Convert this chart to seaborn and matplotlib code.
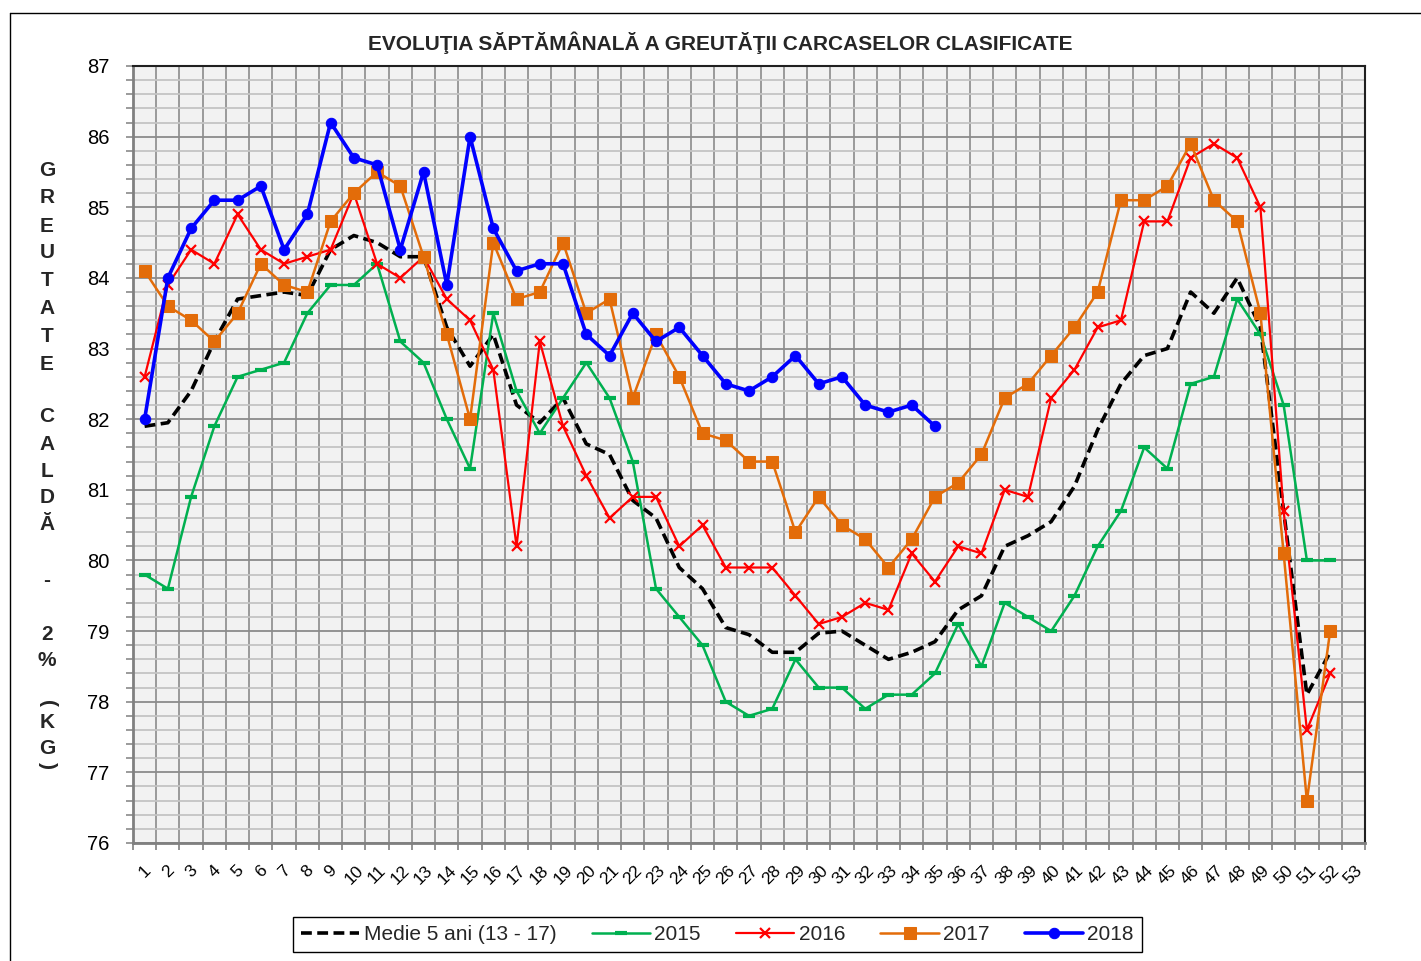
import numpy as np
import matplotlib.pyplot as plt
import seaborn as sns
from matplotlib.ticker import MultipleLocator
from matplotlib.lines import Line2D

# weekly carcass weight
weeks = np.arange(1, 53)
week_labels = [str(i) for i in range(1, 54)]
medie = [81.9, 81.95, 82.4, 83.1, 83.7, 83.75, 83.8, 83.75, 84.4, 84.6, 84.5, 84.3, 84.3,
         83.3, 82.75, 83.2, 82.2, 81.95, 82.3, 81.65, 81.5, 80.85, 80.6, 79.9, 79.6, 79.05,
         78.95, 78.7, 78.7, 78.97, 79.0, 78.8, 78.6, 78.7, 78.85, 79.3, 79.5, 80.2, 80.35,
         80.55, 81.05, 81.85, 82.5, 82.9, 83.0, 83.8, 83.5, 84.0, 83.3, 80.7, 78.1, 78.7]
y2015 = [79.8, 79.6, 80.9, 81.9, 82.6, 82.7, 82.8, 83.5, 83.9, 83.9, 84.2, 83.1, 82.8,
         82.0, 81.3, 83.5, 82.4, 81.8, 82.3, 82.8, 82.3, 81.4, 79.6, 79.2, 78.8, 78.0,
         77.8, 77.9, 78.6, 78.2, 78.2, 77.9, 78.1, 78.1, 78.4, 79.1, 78.5, 79.4, 79.2,
         79.0, 79.5, 80.2, 80.7, 81.6, 81.3, 82.5, 82.6, 83.7, 83.2, 82.2, 80.0, 80.0]
y2016 = [82.6, 83.9, 84.4, 84.2, 84.9, 84.4, 84.2, 84.3, 84.4, 85.2, 84.2, 84.0, 84.3,
         83.7, 83.4, 82.7, 80.2, 83.1, 81.9, 81.2, 80.6, 80.9, 80.9, 80.2, 80.5, 79.9,
         79.9, 79.9, 79.5, 79.1, 79.2, 79.4, 79.3, 80.1, 79.7, 80.2, 80.1, 81.0, 80.9,
         82.3, 82.7, 83.3, 83.4, 84.8, 84.8, 85.7, 85.9, 85.7, 85.0, 80.7, 77.6, 78.4]
y2017 = [84.1, 83.6, 83.4, 83.1, 83.5, 84.2, 83.9, 83.8, 84.8, 85.2, 85.5, 85.3, 84.3,
         83.2, 82.0, 84.5, 83.7, 83.8, 84.5, 83.5, 83.7, 82.3, 83.2, 82.6, 81.8, 81.7,
         81.4, 81.4, 80.4, 80.9, 80.5, 80.3, 79.9, 80.3, 80.9, 81.1, 81.5, 82.3, 82.5,
         82.9, 83.3, 83.8, 85.1, 85.1, 85.3, 85.9, 85.1, 84.8, 83.5, 80.1, 76.6, 79.0]
y2018 = [82.0, 84.0, 84.7, 85.1, 85.1, 85.3, 84.4, 84.9, 86.2, 85.7, 85.6, 84.4, 85.5,
         83.9, 86.0, 84.7, 84.1, 84.2, 84.2, 83.2, 82.9, 83.5, 83.1, 83.3, 82.9, 82.5,
         82.4, 82.6, 82.9, 82.5, 82.6, 82.2, 82.1, 82.2, 81.9]

sns.set_theme(style="white")
plt.rcParams['font.family'] = ['Liberation Sans', 'DejaVu Sans']

W, H = 1421, 961
fig = plt.figure(figsize=(W / 100, H / 100), dpi=100)
ax = fig.add_axes([133 / W, 1 - 843 / H, (1365 - 133) / W, (843 - 66) / H])
ax.set_facecolor("#F2F2F2")

series = [
    ("Medie 5 ani (13 - 17)", medie, dict(color="black", linewidth=2.6, linestyle=(0, (3.0, 1.5)))),
    ("2015", y2015, dict(color="#00B050", linewidth=1.8, marker="_", markersize=9, markeredgewidth=3)),
    ("2016", y2016, dict(color="#FF0000", linewidth=1.6, marker="x", markersize=7, markeredgewidth=1.6)),
    ("2017", y2017, dict(color="#E36C09", linewidth=1.8, marker="s", markersize=8)),
    ("2018", y2018, dict(color="#0000FF", linewidth=2.6, marker="o", markersize=7.5)),
]
for label, vals, kw in series:
    sns.lineplot(x=weeks[:len(vals)], y=vals, ax=ax, label=label,
                 markeredgecolor=kw["color"], **kw)

ax.set_xlim(0.5, 53.5)
ax.set_ylim(76, 87)
ax.set_xticks(np.arange(1, 54))
ax.set_xticklabels(week_labels)
ax.set_xticks(np.arange(0.5, 54, 1), minor=True)
ax.yaxis.set_major_locator(MultipleLocator(1))
ax.yaxis.set_minor_locator(MultipleLocator(0.2))

ax.grid(which="minor", axis="y", color="#C4C4C4", linewidth=1.3)
ax.grid(which="major", axis="y", color="#8C8C8C", linewidth=1.3)
ax.grid(which="minor", axis="x", color="#9A9A9A", linewidth=1.4)
ax.set_axisbelow(True)

ax.tick_params(axis="x", which="major", bottom=False, labelsize=12.5, pad=8, labelcolor="black")
ax.tick_params(axis="x", which="minor", bottom=True, length=5, width=1.2, color="#808080", direction="out")
ax.tick_params(axis="y", which="both", left=True, length=5, width=1.1, color="#808080", direction="out")
ax.tick_params(axis="y", which="major", labelsize=14.5, pad=12, labelcolor="black")
for t in ax.get_xticklabels():
    t.set_rotation(45)
    t.set_ha("center")
    t.set_va("top")

for side in ["left", "bottom"]:
    ax.spines[side].set_color("#808080")
    ax.spines[side].set_linewidth(2)
for side in ["top", "right"]:
    ax.spines[side].set_color("#202020")
    ax.spines[side].set_linewidth(1.5)
ax.set_xlabel("")
ax.set_ylabel("")

fig.text(720 / W, 1 - 43 / H, "EVOLUŢIA SĂPTĂMÂNALĂ A GREUTĂŢII CARCASELOR CLASIFICATE",
         ha="center", va="center", fontsize=15, fontweight="bold")

# stacked vertical axis title
ylab = [("G", 171), ("R", 198), ("E", 226), ("U", 253), ("T", 281), ("A", 308), ("T", 336),
        ("E", 364), ("C", 416), ("A", 444), ("L", 471), ("D", 498), ("Ă", 525), ("-", 580),
        ("2", 634), ("%", 660), ("K", 723), ("G", 748)]
for ch, yp in ylab:
    fig.text(47 / W, 1 - yp / H, ch, ha="center", va="center", fontsize=15, fontweight="bold")
fig.text(47 / W, 1 - 704 / H, "(", ha="center", va="center", fontsize=15, fontweight="bold", rotation=-90)
fig.text(47 / W, 1 - 766 / H, ")", ha="center", va="center", fontsize=15, fontweight="bold", rotation=-90)

handles, labels = ax.get_legend_handles_labels()
leg = ax.legend(handles, labels, loc="center", bbox_to_anchor=(717.5 / W, 1 - 934.5 / H),
                bbox_transform=fig.transFigure, ncol=5, fontsize=15, handlelength=2.8,
                columnspacing=1.7, handletextpad=0.2, borderpad=0.4, fancybox=False,
                frameon=True, edgecolor="black", framealpha=1, numpoints=1)
leg.get_frame().set_linewidth(1.0)

# outer chart frame
fig.add_artist(Line2D([10 / W, 10 / W], [0, 1 - 13 / H], transform=fig.transFigure, color="black", linewidth=1))
fig.add_artist(Line2D([10 / W, 1], [1 - 13 / H, 1 - 13 / H], transform=fig.transFigure, color="black", linewidth=1))

fig.savefig("out.png", dpi=100)
